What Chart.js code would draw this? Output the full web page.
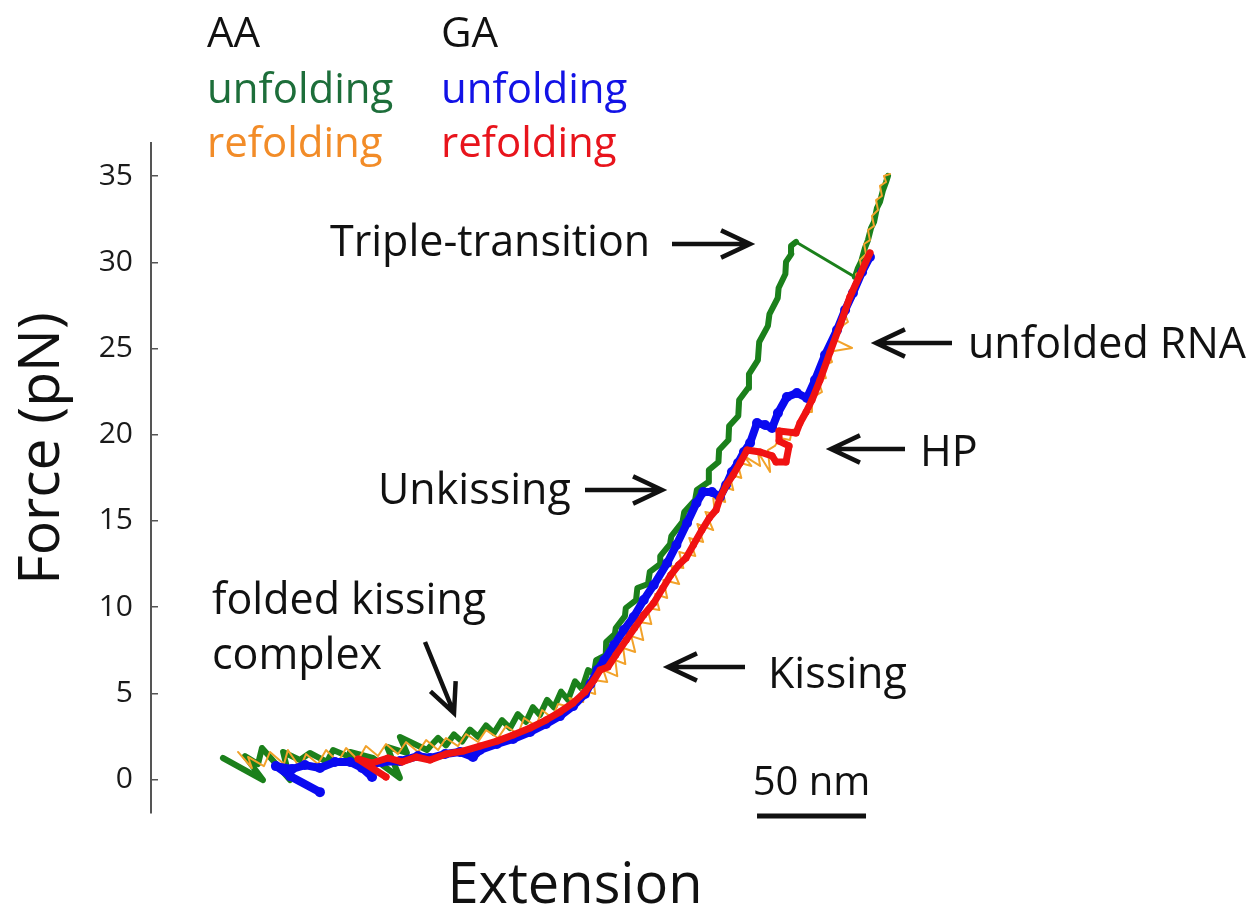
<!DOCTYPE html>
<html>
<head>
<meta charset="utf-8">
<script src="https://cdn.jsdelivr.net/npm/chart.js@4.4.1/dist/chart.umd.min.js"></script>
<style>
  html, body { margin: 0; padding: 0; background: #ffffff; }
  #wrap { width: 1256px; height: 909px; position: relative; }
</style>
</head>
<body>
<div id="wrap"><canvas id="c" width="1256" height="909"></canvas></div>
<script>
// Force axis ticks (pN)
const forceTicks = [0, 5, 10, 15, 20, 25, 30, 35];

// Legend groups and trace names
const constructs = ['AA', 'GA'];
const traceNames = ['unfolding', 'refolding'];

// AA unfolding trace: extension (nm) and force (pN)
const aaUnfoldExt = [
  33.0, 51.4, 43.1, 49.1, 50.9, 63.8, 60.6, 68.3, 72.9, 80.7, 83.5, 94.5, 91.3, 101.8, 114.2, 108.3, 117.4, 114.2, 126.6,
  128.0, 131.7, 135.3, 139.0, 142.7, 146.3, 150.0, 153.7, 157.3, 161.0, 164.7, 168.3, 172.0, 175.2, 178.4, 181.7, 184.9,
  188.1, 191.3, 194.5, 197.7, 200.5, 203.2, 204.2, 208.6, 208.8, 212.8, 213.2, 217.4, 217.8, 222.5, 223.1, 228.0, 228.8,
  233.5, 233.6, 238.1, 238.7, 243.8, 244.6, 249.6, 250.4, 255.7, 255.9, 260.3, 260.6, 264.9, 265.2, 269.4, 269.8, 273.9,
  274.3, 278.4, 279.0, 283.0, 283.7, 287.5, 287.9, 291.0, 291.3, 293.7, 293.6, 295.9,
  322.9, 324.3, 325.7, 327.5, 328.9, 330.3, 331.7, 333.0, 334.4, 335.8, 337.2, 338.1
];
const aaUnfoldForce = [
  1.25, -0.03, 1.36, 0.90, 1.83, -0.03, 1.60, 1.13, 1.54, 1.02, 1.71, 1.13, 1.60, 1.25, 0.09, 1.89, 1.54, 2.47, 1.71,
  1.92, 2.42, 1.98, 2.62, 2.20, 2.90, 2.48, 3.14, 2.70, 3.45, 2.98, 3.80, 3.34, 4.20, 3.74, 4.62, 4.18,
  5.10, 4.62, 5.70, 5.25, 6.35, 6.15, 6.93, 7.22, 7.98, 8.44, 8.79, 9.48, 9.95, 10.41, 11.11, 11.34, 12.04,
  12.50, 12.96, 13.66, 14.12, 14.94, 15.52, 16.21, 16.79, 17.26, 17.95, 18.42, 19.11, 19.69, 20.51, 21.09, 22.01, 22.71,
  23.52, 24.33, 25.38, 26.31, 27.00, 27.93, 28.51, 29.32, 30.02, 30.48, 30.95, 31.18,
  29.15, 29.67, 30.02, 30.83, 31.29, 31.99, 32.34, 33.15, 33.50, 34.19, 34.66, 35.01
];

// AA refolding trace
const aaRefoldExt = [
  39.9, 46.3, 44.5, 51.8, 54.6, 61.0, 62.8, 68.4, 71.1, 76.6, 80.3, 85.8, 89.5, 95.0, 98.6, 104.1, 107.8, 113.3,
  117.0, 122.5, 126.2, 131.7, 135.3, 140.8, 144.5, 150.0, 153.7, 159.2, 162.9, 168.4, 171.1, 176.6, 179.4, 184.0, 186.7,
  194.6, 191.9, 198.3, 197.4, 203.8, 202.9, 209.3, 207.5, 213.9, 213.0, 217.6, 216.6, 222.1, 220.3, 225.8, 224.0,
  229.5, 227.7, 233.2, 231.3, 236.8, 235.0, 242.3, 238.7, 244.2, 242.3, 249.7, 246.9, 253.3, 250.6, 257.9, 254.3,
  258.8, 257.9, 263.4, 261.6, 267.1, 265.3, 270.8, 268.9, 275.4, 272.0, 279.4, 278.4, 284.0, 283.0, 286.2, 288.5,
  293.1, 294.0, 297.7, 300.0, 303.2, 303.2, 307.8, 306.0, 309.6, 307.8, 312.4, 310.6, 321.6, 314.2, 317.0, 319.7,
  317.9, 322.5, 320.6, 324.3, 323.4, 326.2, 325.2, 328.0, 327.1, 329.8, 328.9, 331.7, 330.7, 333.5, 332.6, 335.3,
  334.4, 337.2, 336.2, 339.0
];
const aaRefoldForce = [
  1.60, 0.67, 1.31, 0.78, 1.60, 0.90, 1.71, 0.67, 1.48, 0.90, 1.71, 1.02, 1.83, 1.13, 1.94, 1.36, 2.06, 1.48,
  2.18, 1.60, 2.29, 1.71, 2.41, 1.94, 2.64, 2.18, 2.87, 2.41, 3.10, 2.64, 3.57, 3.10, 4.03, 3.57, 4.38,
  4.15, 4.73, 4.50, 5.19, 4.96, 5.77, 5.66, 6.35, 6.00, 6.93, 6.70, 7.63, 7.40, 8.32, 8.09, 9.14,
  9.02, 9.95, 9.83, 10.76, 10.53, 11.57, 11.34, 12.38, 12.27, 13.20, 12.96, 14.01, 13.78, 14.82, 14.47, 15.52,
  15.40, 16.33, 16.10, 17.02, 16.79, 17.72, 17.49, 18.42, 18.19, 18.77, 18.19, 19.00, 17.84, 19.11, 19.35, 19.81,
  19.69, 20.27, 20.39, 21.32, 21.32, 22.13, 22.48, 23.17, 23.29, 23.99, 24.22, 24.80, 25.03, 25.49, 26.31, 26.54,
  27.12, 27.93, 28.28, 28.74, 29.32, 29.55, 30.13, 30.48, 31.06, 31.29, 31.87, 32.11, 32.69, 33.03, 33.61, 33.85,
  34.43, 34.66, 35.01, 35.12
];

// GA unfolding trace
const gaUnfoldExt = [
  77.5, 63.8, 57.3, 64.7, 70.6, 77.5, 84.4, 91.3, 96.8, 101.4, 98.6, 106.0, 114.2, 122.5, 128.0, 134.9, 141.7, 147.7,
  150.9, 158.7, 166.1, 173.9, 181.2, 187.6, 193.6, 199.1, 201.6, 204.8, 208.0, 212.4, 216.9, 221.4, 226.0, 230.6,
  236.8, 241.0, 245.9, 250.2, 253.3, 257.3, 261.0, 263.8, 266.5, 269.3, 272.0, 274.8, 278.0, 281.7, 284.9, 287.6,
  291.7, 296.3, 300.9, 304.6, 309.2, 314.7, 318.4, 322.0, 326.2, 329.8
];
const gaUnfoldForce = [
  -0.73, 0.20, 0.78, 0.61, 0.84, 0.67, 1.02, 1.02, 0.67, 0.15, 0.78, 1.02, 1.07, 1.36, 1.25, 1.48, 1.60, 1.31,
  1.71, 2.06, 2.35, 2.76, 3.22, 3.68, 4.26, 4.96, 5.54, 6.35, 6.93, 7.80, 8.67, 9.43, 10.41, 11.28,
  12.56, 13.60, 14.88, 16.04, 16.68, 16.68, 16.39, 17.08, 17.84, 18.36, 19.00, 19.52, 20.68, 20.56, 20.39, 21.26,
  22.19, 22.42, 22.13, 23.17, 24.62, 26.07, 27.23, 28.22, 29.44, 30.31
];

// GA refolding trace
const gaRefoldExt = [
  107.8, 95.0, 101.4, 108.7, 115.1, 121.6, 128.0, 135.3, 143.1, 150.9, 158.7, 166.1, 173.9, 181.2, 187.6, 193.6,
  199.1, 203.2, 206.0, 209.6, 213.2, 218.0, 221.8, 226.0, 230.6, 234.8, 238.4, 242.0, 245.4, 248.8, 252.7, 256.1,
  259.2, 261.0, 264.2, 267.0, 270.2, 273.4, 279.4, 284.9, 286.7, 291.3, 292.7, 288.1, 288.1, 295.9, 297.7, 300.5,
  303.2, 306.9, 311.5, 316.1, 320.6, 325.2, 329.8
];
const gaRefoldForce = [
  0.15, 1.19, 0.96, 1.25, 1.02, 1.31, 1.13, 1.48, 1.65, 1.94, 2.23, 2.58, 2.99, 3.45, 3.92, 4.44,
  5.08, 5.77, 6.35, 6.53, 7.22, 8.09, 8.79, 9.54, 10.24, 11.11, 11.86, 12.44, 12.85, 13.60, 14.47, 15.17,
  15.63, 16.33, 17.14, 17.66, 18.36, 19.11, 19.00, 18.77, 18.42, 18.42, 19.35, 19.63, 20.22, 20.10, 20.68, 21.32,
  22.01, 23.17, 24.80, 26.36, 27.99, 29.26, 30.54
];

const toPoints = (xs, ys) => xs.map((x, i) => ({ x: x, y: ys[i] }));

// the straight jump of the AA triple transition is drawn thinner
const jumpIndex = aaUnfoldExt.findIndex((x, i) => i + 1 < aaUnfoldExt.length && aaUnfoldExt[i + 1] - x > 20);

const FONT = "'Open Sans', 'DejaVu Sans', sans-serif";

function drawArrow(ctx, x1, y1, x2, y2) {
  const ang = Math.atan2(y2 - y1, x2 - x1);
  const head = 32, spread = 0.44;
  ctx.beginPath();
  ctx.moveTo(x1, y1);
  ctx.lineTo(x2, y2);
  ctx.moveTo(x2 - head * Math.cos(ang - spread), y2 - head * Math.sin(ang - spread));
  ctx.lineTo(x2, y2);
  ctx.lineTo(x2 - head * Math.cos(ang + spread), y2 - head * Math.sin(ang + spread));
  ctx.stroke();
}

const labelsPlugin = {
  id: 'figureLabels',
  afterDraw(chart) {
    const ctx = chart.ctx;
    const xs = chart.scales.x;
    const ys = chart.scales.y;
    ctx.save();
    ctx.textBaseline = 'alphabetic';
    ctx.textAlign = 'left';

    // legend block
    ctx.font = '42px ' + FONT;
    ctx.fillStyle = '#111111';
    ctx.fillText(constructs[0], 207, 47);
    ctx.fillText(constructs[1], 441, 47);
    ctx.fillStyle = '#1d6e3a';
    ctx.fillText(traceNames[0], 207, 103);
    ctx.fillStyle = '#f28c28';
    ctx.fillText(traceNames[1], 207, 157);
    ctx.fillStyle = '#1212e6';
    ctx.fillText(traceNames[0], 441, 103);
    ctx.fillStyle = '#e8141c';
    ctx.fillText(traceNames[1], 441, 157);

    // annotations
    ctx.font = '43px ' + FONT;
    ctx.fillStyle = '#111111';
    ctx.fillText('Triple-transition', 330, 256);
    ctx.fillText('unfolded RNA', 968, 358);
    ctx.fillText('HP', 920, 466);
    ctx.fillText('Unkissing', 378, 504);
    ctx.fillText('folded kissing', 212, 614);
    ctx.fillText('complex', 212, 669);
    ctx.fillText('Kissing', 768, 688);

    ctx.strokeStyle = '#111111';
    ctx.lineWidth = 4.5;
    ctx.lineCap = 'butt';
    ctx.lineJoin = 'miter';
    drawArrow(ctx, 672, 244, 750, 244);
    drawArrow(ctx, 952, 343, 876, 343);
    drawArrow(ctx, 905, 449, 831, 449);
    drawArrow(ctx, 585, 490, 662, 490);
    drawArrow(ctx, 745, 667, 668, 667);
    drawArrow(ctx, 425, 642, 454, 713);

    // 50 nm scale bar on the extension scale
    const barStart = 278, barLen = 50;
    const bx1 = xs.getPixelForValue(barStart);
    const bx2 = xs.getPixelForValue(barStart + barLen);
    ctx.lineWidth = 5;
    ctx.beginPath();
    ctx.moveTo(bx1, 816);
    ctx.lineTo(bx2, 816);
    ctx.stroke();
    ctx.font = '40px ' + FONT;
    ctx.textAlign = 'center';
    ctx.fillText(barLen + ' nm', (bx1 + bx2) / 2, 795);

    // force axis title, centred on the 19 pN level
    ctx.translate(43, ys.getPixelForValue(19.2));
    ctx.rotate(-Math.PI / 2);
    ctx.font = '57px ' + FONT;
    ctx.textAlign = 'center';
    ctx.textBaseline = 'middle';
    ctx.fillText('Force (pN)', 0, 0);
    ctx.restore();
  }
};

new Chart(document.getElementById('c'), {
  type: 'line',
  data: {
    datasets: [
      {
        label: constructs[1] + ' ' + traceNames[1],
        data: toPoints(gaRefoldExt, gaRefoldForce),
        borderColor: '#f01212',
        backgroundColor: '#f01212',
        borderWidth: 7,
        pointRadius: 3.5,
        pointBorderWidth: 0,
        order: 1
      },
      {
        label: constructs[1] + ' ' + traceNames[0],
        data: toPoints(gaUnfoldExt, gaUnfoldForce),
        borderColor: '#0a0af0',
        backgroundColor: '#0a0af0',
        borderWidth: 8,
        pointRadius: 5,
        pointBorderWidth: 0,
        order: 2
      },
      {
        label: constructs[0] + ' ' + traceNames[1],
        data: toPoints(aaRefoldExt, aaRefoldForce),
        borderColor: '#f2a22a',
        backgroundColor: '#f2a22a',
        borderWidth: 2,
        pointRadius: 0,
        order: 3
      },
      {
        label: constructs[0] + ' ' + traceNames[0],
        data: toPoints(aaUnfoldExt, aaUnfoldForce),
        borderColor: '#1b801b',
        backgroundColor: '#1b801b',
        borderWidth: 6,
        pointRadius: 0,
        segment: {
          borderWidth: c => (c.p0DataIndex === jumpIndex ? 3 : 6)
        },
        order: 4
      }
    ]
  },
  options: {
    responsive: false,
    animation: false,
    elements: {
      line: { tension: 0, borderJoinStyle: 'round', borderCapStyle: 'round' }
    },
    layout: { padding: { top: 143, right: 257, bottom: 0, left: 0 } },
    plugins: {
      legend: { display: false },
      tooltip: { enabled: false }
    },
    scales: {
      x: {
        type: 'linear',
        min: 0,
        max: 389,
        grid: { display: false },
        border: { display: false },
        ticks: { display: false },
        title: {
          display: true,
          text: 'Extension',
          color: '#111111',
          font: { family: FONT, size: 56, lineHeight: 0.8 },
          padding: { top: 0, bottom: 0 }
        },
        afterFit: s => { s.height = 96; }
      },
      y: {
        type: 'linear',
        min: -1.94,
        max: 36.92,
        grid: {
          drawOnChartArea: false,
          tickLength: -7,
          color: '#555555',
          lineWidth: 1.5
        },
        border: { display: true, color: '#555555', width: 2 },
        ticks: {
          stepSize: 5,
          includeBounds: false,
          padding: 25,
          color: '#1a1a1a',
          font: { family: FONT, size: 30 },
          callback: v => (forceTicks.includes(v) ? String(v) : '')
        },
        title: { display: false },
        afterFit: s => { s.width = 151; }
      }
    }
  },
  plugins: [labelsPlugin]
});
</script>
